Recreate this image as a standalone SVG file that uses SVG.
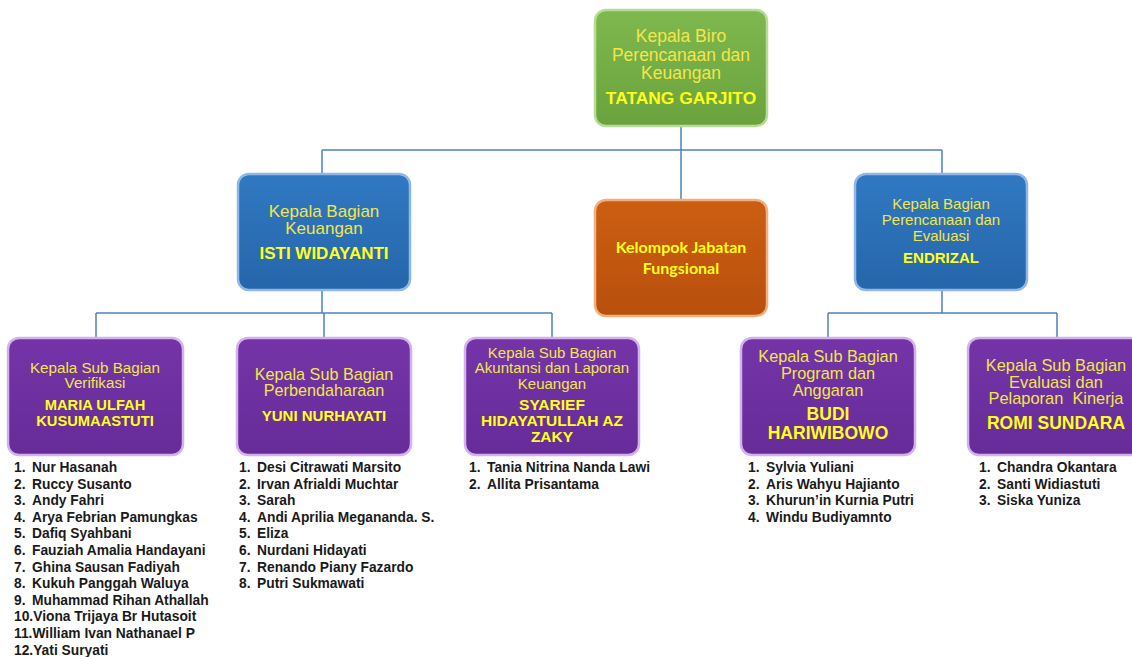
<svg xmlns="http://www.w3.org/2000/svg" width="1132" height="657" viewBox="0 0 1132 657">
<defs>
<linearGradient id="gG" x1="0" y1="0" x2="0" y2="1"><stop offset="0" stop-color="#7fb84e"/><stop offset="1" stop-color="#6aa33d"/></linearGradient>
<linearGradient id="gB" x1="0" y1="0" x2="0" y2="1"><stop offset="0" stop-color="#3079c2"/><stop offset="1" stop-color="#2666aa"/></linearGradient>
<linearGradient id="gO" x1="0" y1="0" x2="0" y2="1"><stop offset="0" stop-color="#cc5e12"/><stop offset="1" stop-color="#b8500c"/></linearGradient>
<linearGradient id="gP" x1="0" y1="0" x2="0" y2="1"><stop offset="0" stop-color="#7434a8"/><stop offset="1" stop-color="#672c98"/></linearGradient>
</defs>
<style>
.box{stroke-width:2.5}
.g{fill:url(#gG);stroke:#b6dc95}
.b{fill:url(#gB);stroke:#8fb8e6}
.o{fill:url(#gO);stroke:#f0b080}
.p{fill:url(#gP);stroke:#d4b0ec}
.t{font-family:"Liberation Sans",Arial,sans-serif;fill:#f2e64a;text-anchor:middle}
.n{font-family:"Liberation Sans",Arial,sans-serif;font-weight:bold;fill:#ffff1a;text-anchor:middle}
.c{font-family:Lato,"Open Sans",sans-serif;font-weight:bold;fill:#ffff1a;text-anchor:middle;font-size:16px}
.l{font-family:"Liberation Sans",Arial,sans-serif;font-weight:bold;fill:#1a1a1a;font-size:13.8px}
.conn{stroke:#4f81bd;stroke-width:1.5;fill:none}
</style>
<rect width="1132" height="657" fill="#ffffff"/>
<g id="connectors">
<path class="conn" d="M681 126V200M322 150H942M322 150V174M942 150V174"/>
<path class="conn" d="M322 290V313M96 313H552M96 313V338M324 313V338M552 313V338"/>
<path class="conn" d="M942 290V313M828 313H1057M828 313V338M1057 313V338"/>
</g>
<g id="n-top">
<rect class="box g" x="595" y="10" width="172" height="116" rx="11"/>
<text class="t" font-size="17.5" x="681" y="42">Kepala Biro</text>
<text class="t" font-size="17.5" x="681" y="61">Perencanaan dan</text>
<text class="t" font-size="17.5" x="681" y="79">Keuangan</text>
<text class="n" font-size="17.4" x="681" y="104">TATANG GARJITO</text>
</g>
<g id="n-keu">
<rect class="box b" x="238" y="174" width="172" height="116" rx="11"/>
<text class="t" font-size="17" x="324" y="217">Kepala Bagian</text>
<text class="t" font-size="17" x="324" y="234">Keuangan</text>
<text class="n" font-size="17" x="324" y="259">ISTI WIDAYANTI</text>
</g>
<g id="n-fung">
<rect class="box o" x="595" y="200" width="172" height="116" rx="11"/>
<text class="c" x="681" y="253">Kelompok Jabatan</text>
<text class="c" x="681" y="274">Fungsional</text>
</g>
<g id="n-pe">
<rect class="box b" x="855" y="174" width="172" height="116" rx="11"/>
<text class="t" font-size="15" x="941" y="209">Kepala Bagian</text>
<text class="t" font-size="15" x="941" y="225">Perencanaan dan</text>
<text class="t" font-size="15" x="941" y="241">Evaluasi</text>
<text class="n" font-size="15" x="941" y="263">ENDRIZAL</text>
</g>
<g id="n-ver">
<rect class="box p" x="8" y="338" width="175" height="117" rx="11"/>
<text class="t" font-size="15.2" x="95" y="373">Kepala Sub Bagian</text>
<text class="t" font-size="15.2" x="95" y="388">Verifikasi</text>
<text class="n" font-size="14.7" x="95" y="410">MARIA ULFAH</text>
<text class="n" font-size="14.7" x="95" y="426">KUSUMAASTUTI</text>
</g>
<g id="n-perb">
<rect class="box p" x="237" y="338" width="174" height="117" rx="11"/>
<text class="t" font-size="16.2" x="324" y="380">Kepala Sub Bagian</text>
<text class="t" font-size="16.2" x="324" y="396">Perbendaharaan</text>
<text class="n" font-size="15" x="324" y="421">YUNI NURHAYATI</text>
</g>
<g id="n-akun">
<rect class="box p" x="465" y="338" width="174" height="117" rx="11"/>
<text class="t" font-size="15" x="552" y="358">Kepala Sub Bagian</text>
<text class="t" font-size="15" x="552" y="373">Akuntansi dan Laporan</text>
<text class="t" font-size="15" x="552" y="389">Keuangan</text>
<text class="n" font-size="15.5" x="552" y="410">SYARIEF</text>
<text class="n" font-size="15.5" x="552" y="426">HIDAYATULLAH AZ</text>
<text class="n" font-size="15.5" x="552" y="442">ZAKY</text>
</g>
<g id="n-prog">
<rect class="box p" x="741" y="338" width="174" height="117" rx="11"/>
<text class="t" font-size="16.3" x="828" y="362">Kepala Sub Bagian</text>
<text class="t" font-size="16.3" x="828" y="379">Program dan</text>
<text class="t" font-size="16.3" x="828" y="396">Anggaran</text>
<text class="n" font-size="17.5" x="828" y="420">BUDI</text>
<text class="n" font-size="17.5" x="828" y="439">HARIWIBOWO</text>
</g>
<g id="n-eval">
<rect class="box p" x="968" y="338" width="174" height="117" rx="11"/>
<text class="t" font-size="16.4" x="1056" y="371">Kepala Sub Bagian</text>
<text class="t" font-size="16.4" x="1056" y="388">Evaluasi dan</text>
<text class="t" font-size="16.4" x="1056" y="404" xml:space="preserve">Pelaporan  Kinerja</text>
<text class="n" font-size="17.5" x="1056" y="429">ROMI SUNDARA</text>
</g>
<g id="list-ver" class="l">
<text x="14" y="472">1.</text><text x="32" y="472">Nur Hasanah</text>
<text x="14" y="488.6">2.</text><text x="32" y="488.6">Ruccy Susanto</text>
<text x="14" y="505.2">3.</text><text x="32" y="505.2">Andy Fahri</text>
<text x="14" y="521.8">4.</text><text x="32" y="521.8">Arya Febrian Pamungkas</text>
<text x="14" y="538.4">5.</text><text x="32" y="538.4">Dafiq Syahbani</text>
<text x="14" y="555">6.</text><text x="32" y="555">Fauziah Amalia Handayani</text>
<text x="14" y="571.6">7.</text><text x="32" y="571.6">Ghina Sausan Fadiyah</text>
<text x="14" y="588.2">8.</text><text x="32" y="588.2">Kukuh Panggah Waluya</text>
<text x="14" y="604.8">9.</text><text x="32" y="604.8">Muhammad Rihan Athallah</text>
<text x="14" y="621.4">10.Viona Trijaya Br Hutasoit</text>
<text x="14" y="638">11.William Ivan Nathanael P</text>
<text x="14" y="654.6">12.Yati Suryati</text>
</g>
<g id="list-perb" class="l">
<text x="239" y="472">1.</text><text x="257" y="472">Desi Citrawati Marsito</text>
<text x="239" y="488.6">2.</text><text x="257" y="488.6">Irvan Afrialdi Muchtar</text>
<text x="239" y="505.2">3.</text><text x="257" y="505.2">Sarah</text>
<text x="239" y="521.8">4.</text><text x="257" y="521.8">Andi Aprilia Megananda. S.</text>
<text x="239" y="538.4">5.</text><text x="257" y="538.4">Eliza</text>
<text x="239" y="555">6.</text><text x="257" y="555">Nurdani Hidayati</text>
<text x="239" y="571.6">7.</text><text x="257" y="571.6">Renando Piany Fazardo</text>
<text x="239" y="588.2">8.</text><text x="257" y="588.2">Putri Sukmawati</text>
</g>
<g id="list-akun" class="l">
<text x="469" y="472">1.</text><text x="487" y="472">Tania Nitrina Nanda Lawi</text>
<text x="469" y="488.6">2.</text><text x="487" y="488.6">Allita Prisantama</text>
</g>
<g id="list-prog" class="l">
<text x="748" y="472">1.</text><text x="766" y="472">Sylvia Yuliani</text>
<text x="748" y="488.6">2.</text><text x="766" y="488.6">Aris Wahyu Hajianto</text>
<text x="748" y="505.2">3.</text><text x="766" y="505.2">Khurun’in Kurnia Putri</text>
<text x="748" y="521.8">4.</text><text x="766" y="521.8">Windu Budiyamnto</text>
</g>
<g id="list-eval" class="l">
<text x="979" y="472">1.</text><text x="997" y="472">Chandra Okantara</text>
<text x="979" y="488.6">2.</text><text x="997" y="488.6">Santi Widiastuti</text>
<text x="979" y="505.2">3.</text><text x="997" y="505.2">Siska Yuniza</text>
</g>
</svg>
